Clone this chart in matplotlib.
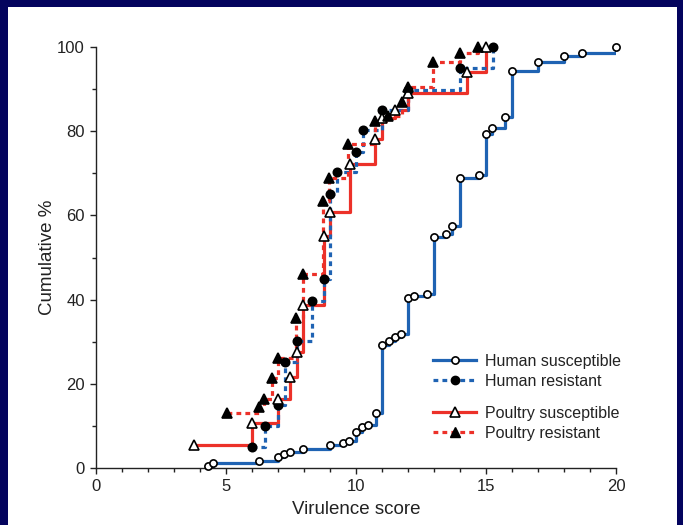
import matplotlib
matplotlib.use("Agg")
import matplotlib.pyplot as plt
from matplotlib.lines import Line2D
from matplotlib.patches import Rectangle

plt.rcParams['font.family'] = ['Liberation Sans', 'DejaVu Sans']

# Cumulative distributions of virulence score (x) vs cumulative percent (y)
human_susc_x = [4.32, 4.51, 6.28, 6.99, 7.24, 7.46, 7.95, 9.0, 9.49, 9.74, 10.0, 10.22,
                10.47, 10.76, 11.0, 11.28, 11.5, 11.73, 12.0, 12.23, 12.72, 13.0, 13.46,
                13.7, 14.0, 14.73, 15.0, 15.22, 15.73, 16.0, 17.0, 18.0, 18.7, 20.0]
human_susc_y = [0.5, 1.1, 1.7, 2.5, 3.3, 3.7, 4.5, 5.4, 6.0, 6.5, 8.6, 9.7,
                10.1, 13.0, 29.2, 30.2, 31.2, 31.8, 40.3, 40.9, 41.3, 54.9, 55.5,
                57.6, 69.0, 69.5, 79.3, 80.7, 83.3, 94.4, 96.4, 97.9, 98.6, 100.0]

human_res_x = [5.99, 6.5, 6.99, 7.27, 7.72, 8.3, 8.76, 9.0, 9.27, 9.99, 10.28, 11.01,
               12.0, 14.0, 15.28]
human_res_y = [5.1, 10.0, 15.0, 25.2, 30.2, 39.7, 45.0, 65.1, 70.2, 75.1, 80.3, 85.0,
               89.8, 94.9, 100.0]

poultry_susc_x = [3.77, 5.99, 6.99, 7.48, 7.74, 7.97, 8.77, 9.0, 9.77, 10.73, 11.01,
                  11.5, 12.0, 14.26, 15.0]
poultry_susc_y = [5.5, 10.6, 16.3, 21.7, 27.6, 38.7, 55.2, 60.7, 72.2, 78.1, 83.1,
                  85.0, 89.0, 94.1, 100.0]

poultry_res_x = [5.03, 6.27, 6.47, 6.76, 6.99, 7.69, 7.97, 8.74, 8.96, 9.7, 10.73,
                 11.24, 11.76, 12.01, 12.97, 14.0, 14.7]
poultry_res_y = [13.0, 14.6, 16.3, 21.3, 26.1, 35.6, 46.1, 63.5, 69.0, 77.0, 82.4,
                 83.6, 87.0, 90.4, 96.5, 98.5, 100.0]

labels = ["Human susceptible", "Human resistant", "Poultry susceptible", "Poultry resistant"]
xticks = [0, 5, 10, 15, 20]
yticks = [0, 20, 40, 60, 80, 100]

BLUE = "#1f63b3"
RED = "#ec3129"
NAVY = "#04045e"
DOT = (0, (1.5, 1.3))

fig = plt.figure(figsize=(6.83, 5.25), dpi=100)
fig.patch.set_facecolor(NAVY)
# white slide panel behind the plot
fig.patches.append(Rectangle((8 / 683, 0), (677 - 8) / 683, (525 - 7) / 525,
                             transform=fig.transFigure, facecolor="white",
                             edgecolor="none", zorder=-10))

ax = fig.add_axes([96 / 683, 57 / 525, 520 / 683, 421 / 525])
ax.set_facecolor("white")
ax.set_zorder(1)

lw = 2.3
ax.step(human_susc_x, human_susc_y, where="post", color=BLUE, lw=lw, zorder=3,
        solid_capstyle="butt")
ax.step(poultry_susc_x, poultry_susc_y, where="post", color=RED, lw=lw, zorder=3,
        solid_capstyle="butt")
ax.step(human_res_x, human_res_y, where="post", color=BLUE, lw=lw, ls=DOT, zorder=4)
ax.step(poultry_res_x, poultry_res_y, where="post", color=RED, lw=lw, ls=DOT, zorder=4)

mk = dict(ls="none", markeredgecolor="black", markeredgewidth=1.2, clip_on=False, zorder=6)
ax.plot(human_susc_x, human_susc_y, marker="o", markersize=5.2, markerfacecolor="white", **mk)
ax.plot(human_res_x, human_res_y, marker="o", markersize=6, markerfacecolor="black", **mk)
ax.plot(poultry_susc_x, poultry_susc_y, marker="^", markersize=6.8, markerfacecolor="white", **mk)
ax.plot(poultry_res_x, poultry_res_y, marker="^", markersize=6.8, markerfacecolor="black", **mk)

ax.set_xlim(0, 20)
ax.set_ylim(0, 100)
ax.set_xticks(xticks)
ax.set_xticks(range(0, 21), minor=True)
ax.set_yticks(yticks)
ax.set_yticks(range(10, 100, 20), minor=True)
for s in ["top", "right"]:
    ax.spines[s].set_visible(False)
for s in ["left", "bottom"]:
    ax.spines[s].set_color("#222222")
    ax.spines[s].set_linewidth(1.0)
ax.tick_params(which="major", direction="out", length=4, width=1.0, colors="#222222",
               labelsize=12, pad=4)
ax.tick_params(which="minor", direction="out", length=3, width=1.0, colors="#222222")
ax.set_xlabel("Virulence score", fontsize=13.5, color="#222222", labelpad=5)
ax.set_ylabel("Cumulative %", fontsize=13.5, color="#222222", labelpad=1)

handles = [
    Line2D([], [], color=BLUE, lw=lw, marker="o", markersize=5.2, markerfacecolor="white",
           markeredgecolor="black", markeredgewidth=1.2),
    Line2D([], [], color=BLUE, lw=lw, ls=DOT, marker="o", markersize=6,
           markerfacecolor="black", markeredgecolor="black"),
    Line2D([], [], color=RED, lw=lw, marker="^", markersize=6.8, markerfacecolor="white",
           markeredgecolor="black", markeredgewidth=1.2),
    Line2D([], [], color=RED, lw=lw, ls=DOT, marker="^", markersize=6.8,
           markerfacecolor="black", markeredgecolor="black"),
]
leg_kw = dict(frameon=False, loc="upper left", borderpad=0, borderaxespad=0,
              handlelength=2.7, handletextpad=0.55, labelspacing=0.3, numpoints=1,
              fontsize=11.5, bbox_transform=fig.transFigure)
leg1 = fig.legend(handles[:2], labels[:2], bbox_to_anchor=(433 / 683, 1 - 354 / 525), **leg_kw)
leg2 = fig.legend(handles[2:], labels[2:], bbox_to_anchor=(433 / 683, 1 - 406 / 525), **leg_kw)
for lg in (leg1, leg2):
    lg.set_zorder(5)
    for t in lg.get_texts():
        t.set_color("#222222")

fig.savefig("out.png", dpi=100, facecolor=NAVY)
